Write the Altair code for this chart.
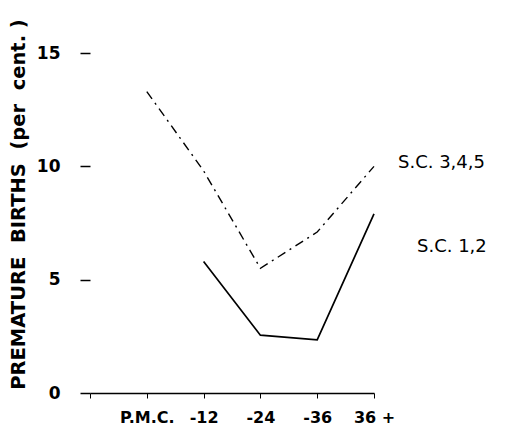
import altair as alt
import pandas as pd

categories = ["", "P.M.C.", "-12", "-24", "-36", "36 +"]

sc345_cats = ["P.M.C.", "-12", "-24", "-36", "36 +"]
sc345_vals = [13.3, 9.8, 5.5, 7.1, 10.0]

sc12_cats = ["-12", "-24", "-36", "36 +"]
sc12_vals = [5.8, 2.55, 2.35, 7.9]

label_names = ["S.C. 3,4,5", "S.C. 1,2"]
label_vals = [10.15, 6.45]

y_ticks = [0, 5, 10, 15]

y_title = "PREMATURE\u00a0\u00a0BIRTHS\u00a0\u00a0(per\u00a0\u00a0cent.\u00a0)"

df345 = pd.DataFrame({"cat": sc345_cats, "val": sc345_vals})
df12 = pd.DataFrame({"cat": sc12_cats, "val": sc12_vals})

FONT = "DejaVu Sans"

x_enc = alt.X("cat:N", sort=categories,
              scale=alt.Scale(type="point", domain=categories, padding=0),
              axis=alt.Axis(title=None, labelAngle=0, labelFontSize=16,
                            labelFontWeight="bold",
                            labelFont=FONT, labelColor="black", labelPadding=11,
                            tickSize=5, tickColor="black", tickWidth=1,
                            domainColor="black", domainWidth=1.5))
y_enc = alt.Y("val:Q", scale=alt.Scale(domain=[0, 15], nice=False),
              axis=alt.Axis(title=y_title,
                            titleFont=FONT, titleFontSize=19.5, titleFontWeight="bold",
                            titleColor="black", titleX=-72, titleY=151,
                            titleAngle=270, titleBaseline="middle", titleAlign="center",
                            values=y_ticks, domain=False, tickSize=10,
                            tickColor="black", tickWidth=1.5, labelPadding=20,
                            labelFont=FONT, labelFontSize=17, labelFontWeight="bold",
                            labelColor="black"))

line345 = alt.Chart(df345).mark_line(color="black", strokeWidth=1.4,
                                     strokeDash=[9, 5, 2, 5]).encode(x=x_enc, y=y_enc)
line12 = alt.Chart(df12).mark_line(color="black", strokeWidth=1.7).encode(
    x=alt.X("cat:N", sort=categories), y="val:Q")

lab1 = alt.Chart().mark_text(align="left", baseline="middle", dx=24, fontSize=18,
                             font=FONT, color="black").encode(
    x=alt.datum("36 +"), y=alt.datum(label_vals[0]), text=alt.value(label_names[0]))
lab2 = alt.Chart().mark_text(align="left", baseline="middle", dx=43, fontSize=18,
                             font=FONT, color="black").encode(
    x=alt.datum("36 +"), y=alt.datum(label_vals[1]), text=alt.value(label_names[1]))

chart = alt.layer(line345, line12, lab1, lab2).properties(
    width=284, height=340,
    autosize=alt.AutoSizeParams(type="none"),
    padding={"left": 82, "top": 45, "right": 125, "bottom": 34},
).configure_view(stroke=None).configure_axis(grid=False)

chart.save("out.html", embed_options={"renderer": "svg", "actions": False})
